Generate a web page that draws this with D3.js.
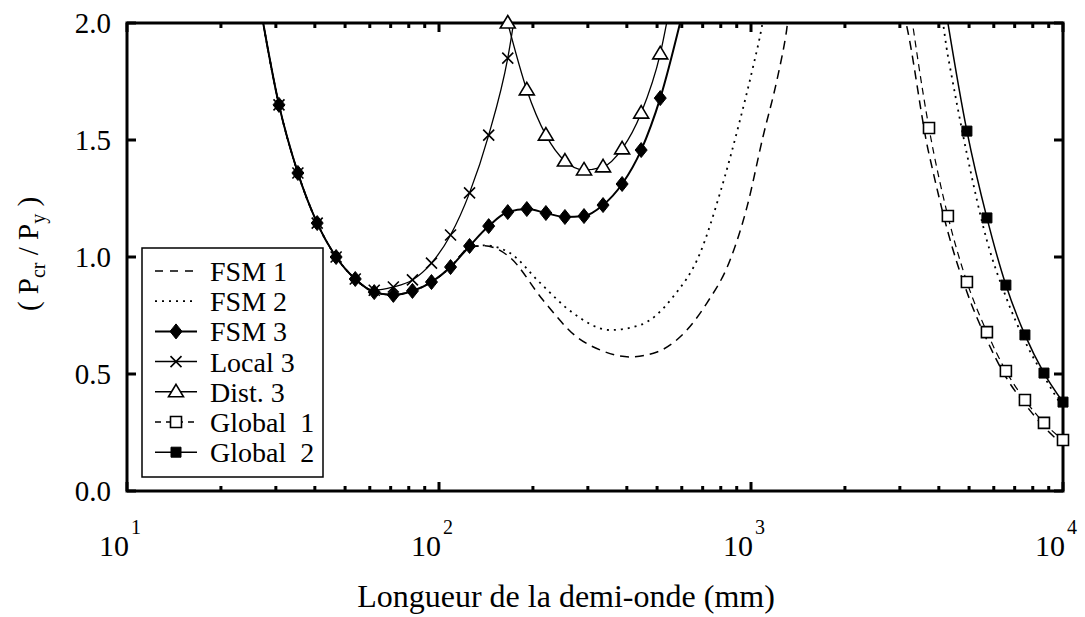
<!DOCTYPE html>
<html>
<head>
<meta charset="utf-8">
<script src="https://cdn.jsdelivr.net/npm/d3@7"></script>
<style>
  body { margin: 0; background: #fff; }
  svg { display: block; }
</style>
</head>
<body>
<svg id="chart" width="1085" height="617" font-family="'Liberation Serif', 'Times New Roman', Times, 'DejaVu Serif', serif"></svg>
<script>
// Half-wavelength (mm) and critical load ratio Pcr/Py for each buckling curve
const fsm1L = [26.5, 30.7, 35.3, 40.7, 46.8, 53.9, 62.0, 71.4, 82.2, 94.6, 108.9, 125.3, 140, 155, 168.9, 215.4, 276.6, 328, 409, 500, 592, 722, 857, 971, 1092, 1211, 1294, 1360, 2950, 3720, 4276, 4921, 5704, 6561, 7551, 8690, 10000];
const fsm1V = [2.1, 1.650, 1.359, 1.145, 1.0, 0.906, 0.850, 0.838, 0.855, 0.893, 0.957, 1.040, 1.048, 1.032, 0.998, 0.816, 0.658, 0.603, 0.573, 0.594, 0.658, 0.803, 0.987, 1.214, 1.513, 1.756, 1.949, 2.15, 2.09, 1.44, 1.107, 0.850, 0.645, 0.487, 0.372, 0.274, 0.197];

const fsm2L = [26.5, 30.7, 35.3, 40.7, 46.8, 53.9, 62.0, 71.4, 82.2, 94.6, 108.9, 125.3, 140, 155, 168.9, 211, 268.5, 353, 441, 562, 687, 796, 922, 1015, 1083, 1150, 3950, 4276, 4921, 5704, 6561, 7551, 8690, 10000];
const fsm2V = [2.1, 1.650, 1.359, 1.145, 1.0, 0.906, 0.850, 0.838, 0.855, 0.893, 0.957, 1.040, 1.050, 1.040, 1.017, 0.889, 0.761, 0.688, 0.709, 0.829, 1.017, 1.274, 1.585, 1.812, 1.983, 2.2, 2.115, 1.86, 1.44, 1.07, 0.83, 0.64, 0.49, 0.355];

const fsm3L = [26.5, 30.7, 35.3, 40.7, 46.8, 53.9, 62.0, 71.4, 82.2, 94.6, 108.9, 125.3, 144.3, 166.1, 191.2, 220.1, 253.3, 291.6, 335.6, 386.3, 444.6, 511.8, 610];
const fsm3V = [2.1, 1.650, 1.359, 1.145, 1.0, 0.906, 0.850, 0.838, 0.855, 0.893, 0.957, 1.047, 1.132, 1.192, 1.205, 1.188, 1.171, 1.175, 1.222, 1.312, 1.457, 1.679, 2.07];

const local3L = [26.5, 30.7, 35.3, 40.7, 46.8, 53.9, 62.0, 71.4, 82.2, 94.6, 108.9, 125.3, 144.3, 166.1, 191.2];
const local3V = [2.1, 1.650, 1.359, 1.145, 1.0, 0.906, 0.858, 0.872, 0.902, 0.974, 1.094, 1.274, 1.521, 1.850, 2.4];

const dist3L = [166.1, 191.2, 220.1, 253.3, 291.6, 335.6, 386.3, 444.6, 511.8, 558];
const dist3V = [2.0, 1.714, 1.521, 1.41, 1.372, 1.385, 1.462, 1.615, 1.868, 2.12];

const global1L = [3150, 3720, 4276, 4921, 5704, 6561, 7551, 8690, 10000];
const global1V = [2.18, 1.551, 1.175, 0.893, 0.679, 0.513, 0.389, 0.291, 0.218];

const global2L = [4100, 4921, 5704, 6561, 7551, 8690, 10000];
const global2V = [2.15, 1.538, 1.167, 0.880, 0.667, 0.504, 0.380];

const seriesNames = ["FSM 1", "FSM 2", "FSM 3", "Local 3", "Dist. 3", "Global  1", "Global  2"];
const yTicks = [0, 0.5, 1.0, 1.5, 2.0];
const xDecades = [1, 2, 3, 4];

const zip = (a, b) => a.map((v, i) => [v, b[i]]);

const series = [
  { name: seriesNames[0], pts: zip(fsm1L, fsm1V), dash: "9,6", w: 1.5, marker: null },
  { name: seriesNames[1], pts: zip(fsm2L, fsm2V), dash: "2,5", w: 1.8, marker: null },
  { name: seriesNames[5], pts: zip(global1L, global1V), dash: "7,5", w: 1.2, marker: "squareOpen" },
  { name: seriesNames[6], pts: zip(global2L, global2V), dash: null, w: 1.5, marker: "squareFilled" },
  { name: seriesNames[3], pts: zip(local3L, local3V), dash: null, w: 1.3, marker: "cross" },
  { name: seriesNames[4], pts: zip(dist3L, dist3V), dash: null, w: 1.3, marker: "triangle" },
  { name: seriesNames[2], pts: zip(fsm3L, fsm3V), dash: null, w: 2, marker: "diamond" }
];

const svg = d3.select("#chart");
const X0 = 127, X1 = 1063, Y0 = 491, Y1 = 23;
const x = d3.scaleLog().domain([10, 10000]).range([X0, X1]);
const y = d3.scaleLinear().domain([0, 2]).range([Y0, Y1]);

svg.append("defs").append("clipPath").attr("id", "plotArea")
  .append("rect").attr("x", X0).attr("y", Y1).attr("width", X1 - X0).attr("height", Y0 - Y1);

const markerPaths = {
  diamond: "M0,-7.5L6,0L0,7.5L-6,0Z",
  cross: "M-5.5,-5.5L5.5,5.5M-5.5,5.5L5.5,-5.5",
  triangle: "M0,-7.5L7.5,5L-7.5,5Z",
  squareOpen: "M-5.5,-5.5H5.5V5.5H-5.5Z",
  squareFilled: "M-5,-5H5V5H-5Z"
};
function styleMarker(sel, kind) {
  sel.attr("d", markerPaths[kind]).attr("stroke", "#000").attr("stroke-linejoin", "miter");
  if (kind === "diamond" || kind === "squareFilled") sel.attr("fill", "#000").attr("stroke-width", 1);
  else if (kind === "cross") sel.attr("fill", "none").attr("stroke-width", 1.6);
  else sel.attr("fill", "#fff").attr("stroke-width", 1.6);
}

const line = d3.line().x(d => x(d[0])).y(d => y(d[1])).curve(d3.curveMonotoneX);

// curves
const lines = svg.append("g").attr("clip-path", "url(#plotArea)");
series.forEach(s => {
  lines.append("path")
    .attr("d", line(s.pts))
    .attr("fill", "none")
    .attr("stroke", "#000")
    .attr("stroke-width", s.w)
    .attr("stroke-dasharray", s.dash);
});

// frame and ticks
const frame = svg.append("g");
const xMajors = xDecades.map(e => Math.pow(10, e));
const xMinors = [];
for (let e = 1; e < 4; e++) for (let k = 2; k <= 9; k++) xMinors.push(k * Math.pow(10, e));

xMajors.forEach(v => {
  frame.append("line").attr("x1", x(v)).attr("x2", x(v)).attr("y1", Y0).attr("y2", Y0 - 9).attr("stroke", "#000").attr("stroke-width", 3);
  frame.append("line").attr("x1", x(v)).attr("x2", x(v)).attr("y1", Y1).attr("y2", Y1 + 9).attr("stroke", "#000").attr("stroke-width", 3);
});
xMinors.forEach(v => {
  frame.append("line").attr("x1", x(v)).attr("x2", x(v)).attr("y1", Y0).attr("y2", Y0 - 5).attr("stroke", "#000").attr("stroke-width", 3);
  frame.append("line").attr("x1", x(v)).attr("x2", x(v)).attr("y1", Y1).attr("y2", Y1 + 5).attr("stroke", "#000").attr("stroke-width", 3);
});
yTicks.forEach(v => {
  frame.append("line").attr("x1", X0).attr("x2", X0 + 9).attr("y1", y(v)).attr("y2", y(v)).attr("stroke", "#000").attr("stroke-width", 3);
  frame.append("line").attr("x1", X1).attr("x2", X1 - 9).attr("y1", y(v)).attr("y2", y(v)).attr("stroke", "#000").attr("stroke-width", 3);
});
frame.append("rect").attr("x", X0).attr("y", Y1).attr("width", X1 - X0).attr("height", Y0 - Y1)
  .attr("fill", "none").attr("stroke", "#000").attr("stroke-width", 3);

// markers drawn over the frame
series.filter(s => s.marker).forEach(s => {
  svg.append("g").selectAll("path")
    .data(s.pts.filter(d => d[1] <= 2.0))
    .join("path")
    .attr("transform", d => `translate(${x(d[0])},${y(d[1])})`)
    .call(styleMarker, s.marker);
});

// y tick labels
svg.append("g").selectAll("text").data(yTicks).join("text")
  .attr("x", 111).attr("y", d => y(d) + 10)
  .attr("text-anchor", "end").attr("font-size", 29)
  .text(d => d.toFixed(1));

// x tick labels: 10 with exponent
const xl = svg.append("g");
xDecades.forEach(e => {
  const px = x(Math.pow(10, e));
  xl.append("text").attr("x", px + 2).attr("y", 556).attr("text-anchor", "end").attr("font-size", 30).text("10");
  xl.append("text").attr("x", px + 4).attr("y", 534).attr("font-size", 20).text(e);
});

// axis titles
svg.append("text").attr("x", 566).attr("y", 607).attr("text-anchor", "middle").attr("font-size", 32)
  .text("Longueur de la demi-onde (mm)");

const yt = svg.append("text").attr("transform", "translate(38,254) rotate(-90)")
  .attr("text-anchor", "middle").attr("font-size", 29).style("white-space", "pre");
yt.append("tspan").text("( P");
yt.append("tspan").attr("dy", 7).attr("font-size", 20).text("cr");
yt.append("tspan").attr("dy", -7).text(" / P");
yt.append("tspan").attr("dy", 7).attr("font-size", 20).text("y");
yt.append("tspan").attr("dy", -7).text(" )");

// legend
const legendOrder = [
  { label: seriesNames[0], dash: "8,7", w: 1.5, marker: null },
  { label: seriesNames[1], dash: "2,5", w: 1.8, marker: null },
  { label: seriesNames[2], dash: null, w: 2, marker: "diamond" },
  { label: seriesNames[3], dash: null, w: 1.5, marker: "cross" },
  { label: seriesNames[4], dash: null, w: 1.5, marker: "triangle" },
  { label: seriesNames[5], dash: "6,5", w: 1.5, marker: "squareOpen" },
  { label: seriesNames[6], dash: null, w: 1.5, marker: "squareFilled" }
];
const lg = svg.append("g");
lg.append("rect").attr("x", 142).attr("y", 248).attr("width", 181).attr("height", 229)
  .attr("fill", "#fff").attr("stroke", "#000").attr("stroke-width", 1.5);
legendOrder.forEach((d, i) => {
  const cy = 271 + i * 30.2;
  lg.append("line").attr("x1", 155).attr("x2", 197).attr("y1", cy).attr("y2", cy)
    .attr("stroke", "#000").attr("stroke-width", d.w).attr("stroke-dasharray", d.dash);
  if (d.marker) lg.append("path").attr("transform", `translate(176,${cy})`).call(styleMarker, d.marker);
  lg.append("text").attr("x", 210).attr("y", cy + 10).attr("font-size", 28)
    .style("white-space", "pre").text(d.label);
});
</script>
</body>
</html>
